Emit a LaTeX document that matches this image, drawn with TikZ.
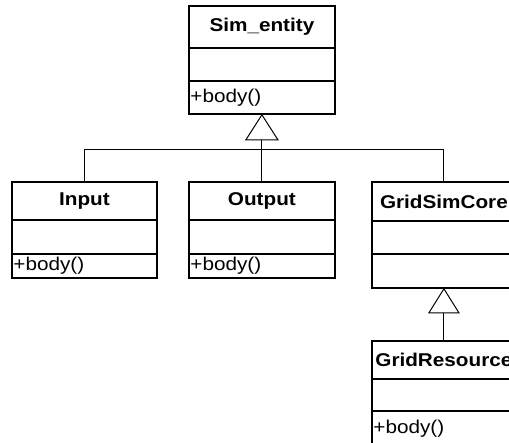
\documentclass[tikz,border=0pt]{standalone}
\usepackage{fontspec}
\setmainfont{Liberation Sans}
\newcommand\wide[1]{\scalebox{1.12}[1]{#1}}
\tikzset{
  comp/.style={draw, line width=1.8pt, anchor=north west, inner sep=0pt, minimum width=#1},
  titlefont/.style={font=\fontsize{18.5}{18.5}\selectfont\bfseries},
  opfont/.style={font=\fontsize{18.5}{18.5}\selectfont, text width=#1, align=left, inner xsep=1.5pt},
  conn/.style={line width=1pt, line join=miter},
}
\begin{document}
\begin{tikzpicture}[x=1pt, y=-1pt]
\path[use as bounding box, fill=white] (0,0) rectangle (509,443);
\clip (0,0) rectangle (509,443);
% Sim_entity
\node[comp=146pt, minimum height=42pt, titlefont] (simt) at (188,5) {\wide{Sim\_entity}};
\node[comp=146pt, minimum height=33pt] (sima) at (188,47) {};
\node[comp=146pt, minimum height=33pt, opfont=143pt] (simo) at (188,80) {\wide{+body()}};
% Input
\node[comp=145pt, minimum height=38pt, titlefont] (int) at (11,181) {\wide{Input}};
\node[comp=145pt, minimum height=34pt] (ina) at (11,219) {};
\node[comp=145pt, minimum height=24pt, opfont=142pt] (ino) at (11,253) {\wide{+body()}};
% Output
\node[comp=146pt, minimum height=38pt, titlefont] (outt) at (188,181) {\wide{Output}};
\node[comp=146pt, minimum height=34pt] (outa) at (188,219) {};
\node[comp=146pt, minimum height=24pt, opfont=143pt] (outo) at (188,253) {\wide{+body()}};
% GridSimCore
\node[comp=144pt, minimum height=39pt, titlefont] (gst) at (371,181) {\wide{GridSimCore}};
\node[comp=144pt, minimum height=33pt] (gsa) at (371,220) {};
\node[comp=144pt, minimum height=34pt] (gso) at (371,253) {};
% GridResource
\node[comp=144pt, minimum height=38pt, titlefont] (grt) at (371,340) {\wide{GridResource}};
\node[comp=144pt, minimum height=32pt] (gra) at (371,378) {};
\node[comp=144pt, minimum height=36pt, opfont=141pt] (gro) at (371,410) {\wide{+body()}};
% generalization: Sim_entity
\coordinate (b1) at ([yshift=-25pt]simo.south);
\draw[conn] (simo.south) -- ++(-16,25) -- ++(32,0) -- cycle;
\draw[conn] (b1) -- (outt.north);
\draw[conn] (int.north) -- ++(0,-31) -| (gst.north);
% generalization: GridSimCore
\coordinate (b2) at ([yshift=-24pt]gso.south);
\draw[conn] (gso.south) -- ++(-15,24) -- ++(30,0) -- cycle;
\draw[conn] (b2) -- (grt.north);
\end{tikzpicture}
\end{document}
